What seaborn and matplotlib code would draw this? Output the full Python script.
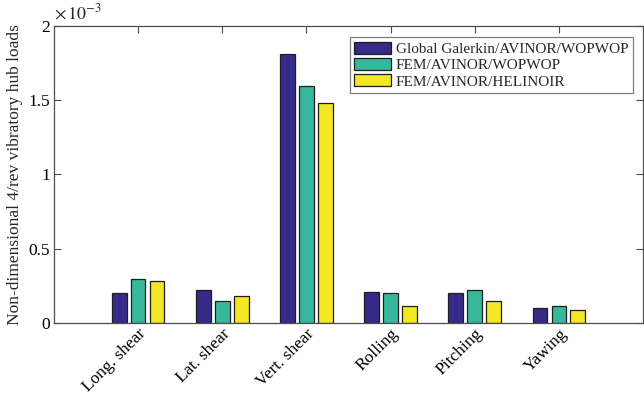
import matplotlib
matplotlib.use("Agg")
import matplotlib.pyplot as plt
import seaborn as sns
import pandas as pd
from matplotlib.patches import Patch

# Hub load components
categories = ["Long. shear", "Lat. shear", "Vert. shear", "Rolling", "Pitching", "Yawing"]

# Solver chains compared
methods = ["Global Galerkin/AVINOR/WOPWOP", "FEM/AVINOR/WOPWOP", "FEM/AVINOR/HELINOIR"]

# Non-dimensional 4/rev vibratory hub loads, in units of 1e-3
galerkin_wopwop = [0.200, 0.220, 1.810, 0.210, 0.200, 0.098]
fem_wopwop = [0.295, 0.147, 1.593, 0.200, 0.220, 0.115]
fem_helinoir = [0.283, 0.180, 1.480, 0.113, 0.147, 0.083]

y_ticks = [0, 0.5, 1, 1.5, 2]
y_tick_labels = ["0", "0.5", "1", "1.5", "2"]

colors = ["#352a87", "#37b89d", "#f2e625"]

sns.set_theme(style="white")
plt.rcParams["font.family"] = ["Liberation Serif", "DejaVu Serif"]
plt.rcParams["mathtext.fontset"] = "stix"

rows = []
for m, vals in zip(methods, [galerkin_wopwop, fem_wopwop, fem_helinoir]):
    for c, v in zip(categories, vals):
        rows.append({"load": c, "method": m, "value": v})
df = pd.DataFrame(rows)

fig = plt.figure(figsize=(6.44, 4.0), dpi=100)
ax = fig.add_axes([0.0839, 0.193, 0.9145, 0.742])

sns.barplot(data=df, x="load", y="value", hue="method", order=categories,
            hue_order=methods, palette=colors, width=0.675, gap=0.23,
            edgecolor="#1e1e1e", linewidth=0.9, saturation=1, errorbar=None,
            legend=False, ax=ax)

ax.set_xlim(-1, 6)
ax.set_ylim(0, 2)
ax.set_yticks(y_ticks)
ax.set_yticklabels(y_tick_labels)
ax.set_xlabel("")
ax.set_ylabel("Non-dimensional 4/rev vibratory hub loads", fontsize=12.5, labelpad=4)

for s in ax.spines.values():
    s.set_color("#4d4d4d")
    s.set_linewidth(0.9)
    s.set_visible(True)

ax.tick_params(axis="both", direction="in", length=5, width=0.8, color="#4d4d4d",
               top=True, right=True, bottom=True, left=True, labelsize=12.5,
               labelcolor="black")
ax.tick_params(axis="y", pad=3)
ax.tick_params(axis="x", pad=2)
plt.setp(ax.get_xticklabels(), rotation=45, ha="right", va="top",
         rotation_mode="anchor")

ax.text(0.0, 1.01, r"$\times\,10^{-3}$", transform=ax.transAxes,
        fontsize=13, ha="left", va="bottom")

handles = [Patch(facecolor=c, edgecolor="#1e1e1e", linewidth=0.9) for c in colors]
leg = ax.legend(handles, methods, loc="upper right", bbox_to_anchor=(0.983, 0.962),
                fontsize=11, frameon=True, fancybox=False, framealpha=1,
                edgecolor="#7f7f7f", handlelength=2.4, handleheight=0.85,
                handletextpad=0.3, labelspacing=0.12, borderpad=0.3,
                borderaxespad=0)
leg.get_frame().set_linewidth(0.9)

fig.savefig("out.png", dpi=100)
